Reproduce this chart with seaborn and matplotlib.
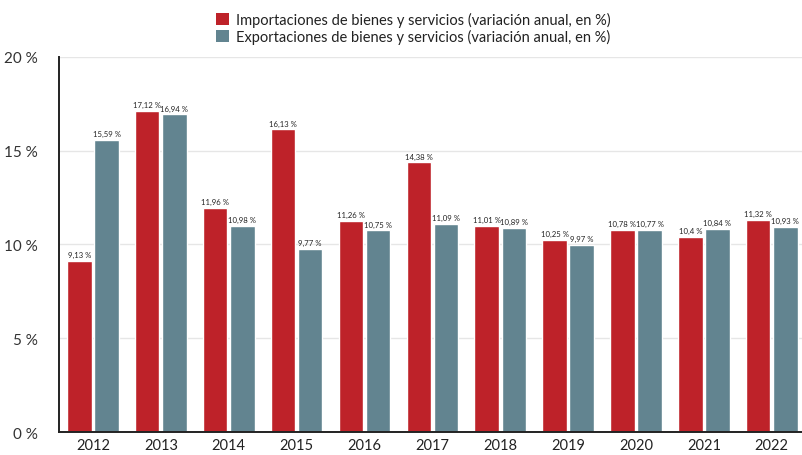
import pandas as pd
import matplotlib
matplotlib.use("Agg")
import matplotlib.pyplot as plt
import seaborn as sns
from matplotlib.patches import Patch
from matplotlib.ticker import FixedLocator

anios = ["2012", "2013", "2014", "2015", "2016", "2017", "2018", "2019", "2020", "2021", "2022"]
importaciones = [9.13, 17.12, 11.96, 16.13, 11.26, 14.38, 11.01, 10.25, 10.78, 10.4, 11.32]
exportaciones = [15.59, 16.94, 10.98, 9.77, 10.75, 11.09, 10.89, 9.97, 10.77, 10.84, 10.93]
series = ["Importaciones de bienes y servicios (variación anual, en %)",
          "Exportaciones de bienes y servicios (variación anual, en %)"]
colores = ["#BE2229", "#628490"]
y_ticks = [0, 5, 10, 15, 20]

df = pd.DataFrame({
    "Año": anios * 2,
    "Valor": importaciones + exportaciones,
    "Serie": [series[0]] * len(anios) + [series[1]] * len(anios),
})

sns.set_style("white")
plt.rcParams["font.family"] = ["Lato", "DejaVu Sans"]

fig = plt.figure(figsize=(8.03, 4.56), dpi=100)
ax = fig.add_axes([0.0735, 0.0504, 0.9265, 0.8226])

sns.barplot(data=df, x="Año", y="Valor", hue="Serie", palette=colores,
            width=0.8, gap=0.1, ax=ax, legend=False, saturation=1)

def fmt(v):
    return f"{v:g}".replace(".", ",") + " %"

# etiquetas de valor encima de cada barra
for cont, vals in zip(ax.containers, [importaciones, exportaciones]):
    ax.bar_label(cont, labels=[fmt(v) for v in vals], fontsize=5.6,
                 padding=2, color="#222222")

ax.set_ylim(0, 20)
ax.set_xlim(-0.5, 10.46)
ax.set_yticks(y_ticks)
ax.set_yticklabels([f"{t} %" for t in y_ticks], fontsize=11, color="#333333")
ax.tick_params(axis="y", length=4, width=1.2, color="#222222", pad=11)
ax.tick_params(axis="x", which="major", length=0, labelsize=10.5,
               labelcolor="#222222", pad=4)
ax.xaxis.set_minor_locator(FixedLocator([i - 0.5 for i in range(len(anios) + 1)]))
ax.tick_params(axis="x", which="minor", length=5, width=1.2, color="#222222",
               direction="inout")
ax.set_xlabel("")
ax.set_ylabel("")
ax.grid(axis="y", color="#E6E6E6", linewidth=1)
ax.set_axisbelow(True)

for s in ["top", "right"]:
    ax.spines[s].set_visible(False)
for s in ["left", "bottom"]:
    ax.spines[s].set_color("#222222")
    ax.spines[s].set_linewidth(1.4)

handles = [Patch(facecolor=c, edgecolor="none") for c in colores]
fig.legend(handles, series, loc="upper center", bbox_to_anchor=(0.515, 1.0),
           ncol=1, frameon=False, fontsize=10.5, handlelength=0.9,
           handleheight=0.9, handletextpad=0.5, labelspacing=0.1,
           labelcolor="#222222")

fig.savefig("out.png", dpi=100)
